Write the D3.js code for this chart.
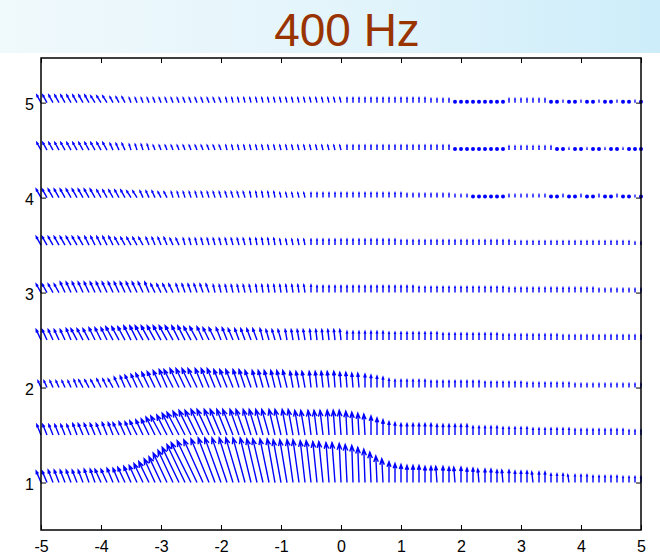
<!DOCTYPE html>
<html>
<head>
<meta charset="utf-8">
<script src="https://cdn.jsdelivr.net/npm/d3@7"></script>
<style>
  html, body { margin: 0; padding: 0; background: #ffffff; }
  svg { display: block; }
</style>
</head>
<body>
<div id="viscontainer"></div>
<script>

// quiver grid: arrow bases along x, one row of arrows per y level
const gridX = [
  -5, -4.9, -4.8, -4.7, -4.6, -4.5, -4.4, -4.3, -4.2, -4.1,
  -4, -3.9, -3.8, -3.7, -3.6, -3.5, -3.4, -3.3, -3.2, -3.1,
  -3, -2.9, -2.8, -2.7, -2.6, -2.5, -2.4, -2.3, -2.2, -2.1,
  -2, -1.9, -1.8, -1.7, -1.6, -1.5, -1.4, -1.3, -1.2, -1.1,
  -1, -0.9, -0.8, -0.7, -0.6, -0.5, -0.4, -0.3, -0.2, -0.1,
  0, 0.1, 0.2, 0.3, 0.4, 0.5, 0.6, 0.7, 0.8, 0.9,
  1, 1.1, 1.2, 1.3, 1.4, 1.5, 1.6, 1.7, 1.8, 1.9,
  2, 2.1, 2.2, 2.3, 2.4, 2.5, 2.6, 2.7, 2.8, 2.9,
  3, 3.1, 3.2, 3.3, 3.4, 3.5, 3.6, 3.7, 3.8, 3.9,
  4, 4.1, 4.2, 4.3, 4.4, 4.5, 4.6, 4.7, 4.8, 4.9,
  5
];

const rowY = [1, 1.5, 2, 2.5, 3, 3.5, 4, 4.5, 5];

// vector components, in hundredths of a data unit (u: along x, v: along y)
const v_y10 = [
  12,12,13,13,13,13,13,13,14,14,14,14,15,15,16,
  17,18,20,22,25,27,31,34,37,40,
  42,44,45,46,47,47,47,47,47,47,
  47,46,46,46,46,45,45,45,45,44,
  44,43,43,42,42,41,40,39,37,35,
  32,28,25,22,20,19,18,18,18,17,
  17,17,17,16,16,16,15,15,14,14,
  14,13,13,13,12,12,12,11,11,11,
  9,9,9,8,8,8,8,7,7,7,
  7,7,6,6,6,6
];
const u_y10 = [
  -8,-8,-8,-8,-8,-8,-8,-8,-8,-8,-10,-10,-10,-10,-12,
  -12,-13,-15,-17,-18,-20,-23,-25,-28,-30,
  -33,-33,-32,-30,-28,-27,-25,-23,-22,-20,
  -18,-17,-17,-15,-13,-13,-12,-10,-10,-8,
  -8,-7,-7,-5,-5,-3,-3,-2,-2,-2,
  -2,-2,-2,0,0,0,0,0,0,0,
  0,-2,0,0,-2,0,0,0,-2,0,
  0,0,-2,0,0,0,0,-2,0,0,
  0,0,0,-2,0,0,0,0,0,0,
  0,0,0,0,0,0
];

const v_y15 = [
  11,11,11,11,11,11,12,12,12,12,12,13,13,13,14,
  14,15,16,17,19,20,21,23,24,25,
  26,26,27,27,27,27,27,27,27,27,
  27,27,27,27,27,27,27,27,26,26,
  26,26,26,26,26,26,25,24,23,22,
  20,18,16,14,13,12,12,12,12,12,
  12,11,11,11,11,11,11,9,9,9,
  9,9,8,8,8,8,8,7,7,7,
  7,7,7,7,6,6,6,6,6,6,
  6,6,6,5,5,5
];
const u_y15 = [
  -7,-7,-7,-7,-7,-7,-7,-8,-8,-8,-8,-8,-8,-10,-10,
  -10,-12,-12,-13,-15,-17,-17,-18,-20,-20,
  -20,-20,-20,-20,-18,-18,-17,-17,-15,-15,
  -13,-13,-12,-12,-10,-10,-8,-8,-7,-7,
  -5,-5,-5,-3,-3,-3,-2,-2,-2,-2,
  0,0,0,0,0,0,0,0,0,0,
  0,0,0,0,0,0,0,0,0,0,
  0,0,0,0,0,0,0,0,0,0,
  0,0,0,0,0,0,0,0,0,0,
  0,0,0,0,0,0
];

const v_y20 = [
  7,7,7,7,7,7,8,8,8,8,9,9,9,11,12,
  13,14,15,16,17,18,19,19,20,20,
  20,20,20,20,20,19,19,19,19,19,
  18,18,18,18,18,18,18,17,17,17,
  17,17,17,17,17,16,16,15,15,14,
  13,12,11,9,8,8,8,8,8,8,
  7,7,7,7,7,7,7,7,7,6,
  6,6,6,6,6,6,5,5,5,5,
  5,5,5,5,4,4,4,4,4,4,
  4,4,4,4,4,4
];
const u_y20 = [
  -5,-5,-5,-5,-5,-5,-5,-7,-7,-7,-7,-7,-8,-8,-8,
  -10,-10,-12,-12,-13,-13,-13,-15,-15,-15,
  -15,-15,-13,-13,-13,-12,-12,-12,-10,-10,
  -10,-8,-8,-8,-7,-7,-7,-5,-5,-5,
  -3,-3,-3,-3,-2,-2,-2,-2,-2,0,
  0,0,0,0,0,0,0,0,0,0,
  0,0,0,0,0,0,0,0,0,0,
  0,0,0,0,0,0,0,0,0,0,
  0,0,0,0,0,0,0,0,0,0,
  0,0,0,0,0,0
];

const v_y25 = [
  11,11,11,11,11,12,12,12,12,13,13,13,14,14,14,
  15,15,15,15,15,15,15,15,15,15,
  14,14,14,13,13,13,13,12,12,12,
  12,12,12,11,11,11,11,11,11,11,
  11,11,11,11,11,11,9,9,9,9,
  9,9,9,8,8,8,8,8,8,8,
  8,8,7,7,7,7,7,7,7,7,
  7,7,6,6,6,6,6,6,6,6,
  6,6,5,5,5,5,5,5,5,5,
  5,5,5,5,5,5
];
const u_y25 = [
  -8,-8,-8,-8,-8,-8,-10,-10,-10,-10,-10,-10,-12,-12,-12,
  -12,-12,-13,-13,-13,-13,-13,-13,-12,-12,
  -12,-12,-10,-10,-10,-8,-8,-8,-7,-7,
  -7,-7,-5,-5,-5,-5,-3,-3,-3,-3,
  -2,-2,-2,-2,-2,-2,0,0,0,0,
  0,0,0,0,0,0,0,0,0,0,
  0,0,0,0,0,0,0,0,0,0,
  0,0,0,0,0,0,0,0,0,0,
  0,0,0,0,0,0,0,0,0,0,
  0,0,0,0,0,0
];

const v_y30 = [
  9,9,9,9,11,11,11,11,11,11,11,11,11,11,11,
  11,11,11,11,9,9,9,9,9,9,
  9,9,9,9,8,8,8,8,8,8,
  8,8,8,8,8,8,8,8,8,8,
  8,7,7,7,7,7,7,7,7,7,
  7,7,7,7,7,7,7,7,6,6,
  6,6,6,6,6,6,6,6,6,6,
  6,6,6,5,5,5,5,5,5,5,
  5,5,5,5,5,5,5,5,4,4,
  4,4,4,4,4,4
];
const u_y30 = [
  -8,-8,-8,-8,-8,-8,-8,-8,-8,-8,-8,-8,-8,-8,-8,
  -8,-8,-8,-7,-7,-7,-7,-7,-5,-5,
  -5,-5,-5,-5,-3,-3,-3,-3,-3,-3,
  -3,-2,-2,-2,-2,-2,-2,-2,-2,-2,
  0,0,0,0,0,0,0,0,0,0,
  0,0,0,0,0,0,0,0,0,0,
  0,0,0,0,0,0,0,0,0,0,
  0,0,0,0,0,0,0,0,0,0,
  0,0,0,0,0,0,0,0,0,0,
  0,0,0,0,0,0
];

const v_y35 = [
  9,9,9,9,9,9,9,9,9,9,9,9,9,8,8,
  8,8,8,8,8,8,8,7,7,7,
  7,7,7,7,7,7,7,7,7,7,
  7,7,7,7,7,6,6,6,6,6,
  6,6,6,6,6,6,6,6,6,6,
  6,6,6,6,6,5,5,5,5,5,
  5,5,5,5,5,5,5,5,5,5,
  5,5,5,5,4,4,4,4,4,4,
  4,4,4,4,4,4,4,4,4,4,
  4,4,4,4,3,3
];
const u_y35 = [
  -8,-8,-8,-8,-8,-8,-8,-8,-7,-7,-7,-7,-7,-7,-7,
  -7,-7,-7,-5,-5,-5,-5,-5,-5,-3,
  -3,-3,-3,-3,-3,-3,-3,-3,-3,-3,
  -2,-2,-2,-2,-2,-2,-2,-2,-2,-2,
  0,0,0,0,0,0,0,0,0,0,
  0,0,0,0,0,0,0,0,0,0,
  0,0,0,0,0,0,0,0,0,0,
  0,0,0,0,0,0,0,0,0,0,
  0,0,0,0,0,0,0,0,0,0,
  0,0,0,0,0,0
];

const v_y40 = [
  9,9,9,9,9,9,9,9,9,9,8,8,8,8,8,
  7,7,7,7,7,6,6,6,6,6,
  6,6,6,6,6,6,6,6,6,6,
  6,6,6,6,6,5,5,5,5,5,
  5,5,5,5,5,5,5,5,5,5,
  5,5,5,5,5,5,4,4,4,4,
  4,4,4,4,3,3,3,1,1,1,
  1,1,1,3,3,3,3,3,3,3,
  1,1,3,1,1,3,1,1,3,1,
  1,3,1,1,2,1
];
const u_y40 = [
  -8,-8,-8,-8,-8,-8,-8,-8,-8,-8,-7,-7,-7,-7,-7,
  -7,-7,-5,-5,-5,-5,-5,-3,-3,-3,
  -3,-3,-3,-3,-3,-3,-3,-3,-3,-3,
  -2,-2,-2,-2,-2,-2,-2,-2,-2,-2,
  0,0,0,0,0,0,0,0,0,0,
  0,0,0,0,0,0,0,0,0,0,
  0,0,0,0,0,0,0,0,0,0,
  0,0,0,0,0,0,0,0,0,0,
  0,0,0,0,0,0,0,0,0,0,
  0,0,0,0,0,0
];

const v_y45 = [
  8,8,8,8,8,8,8,8,8,8,8,8,7,7,7,
  6,6,6,6,5,5,5,5,5,5,
  5,5,5,5,5,5,5,5,5,5,
  5,5,5,5,5,5,5,5,5,5,
  5,5,5,5,5,5,5,5,5,5,
  5,5,5,5,5,5,5,5,5,5,
  5,5,5,5,1,1,1,1,1,1,
  1,1,1,4,4,4,4,4,4,4,
  4,1,1,2,1,1,2,1,1,2,
  1,1,2,1,1,1
];
const u_y45 = [
  -7,-7,-7,-7,-7,-7,-7,-7,-7,-7,-7,-7,-5,-5,-5,
  -3,-3,-3,-3,-3,-3,-3,-3,-3,-3,
  -3,-3,-3,-3,-3,-3,-2,-2,-2,-2,
  -2,-2,-2,-2,-2,-2,-2,-2,-2,-2,
  -2,-2,-2,-2,-2,-2,0,0,0,0,
  0,0,0,0,0,0,0,0,0,0,
  0,0,0,0,0,0,0,0,0,0,
  0,0,0,0,0,0,0,0,0,0,
  0,0,0,0,0,0,0,0,0,0,
  0,0,0,0,0,0
];

const v_y50 = [
  8,8,8,8,8,8,8,8,8,7,7,7,6,6,6,
  5,5,5,5,5,5,5,5,5,5,
  5,5,5,5,5,5,5,5,5,5,
  5,5,5,5,5,5,5,5,5,5,
  5,5,5,5,5,5,5,5,5,5,
  5,5,5,5,5,5,5,5,5,5,
  4,4,4,4,1,1,1,1,1,1,
  1,1,1,4,4,4,4,4,4,4,
  1,1,2,1,1,2,1,1,2,1,
  1,2,1,1,2,1
];
const u_y50 = [
  -7,-7,-7,-7,-7,-7,-7,-7,-7,-7,-7,-7,-5,-5,-5,
  -3,-3,-3,-3,-3,-3,-3,-3,-3,-3,
  -3,-3,-3,-3,-3,-3,-2,-2,-2,-2,
  -2,-2,-2,-2,-2,-2,-2,-2,-2,-2,
  -2,-2,-2,-2,-2,-2,0,0,0,0,
  0,0,0,0,0,0,0,0,0,0,
  0,0,0,0,0,0,0,0,0,0,
  0,0,0,0,0,0,0,0,0,0,
  0,0,0,0,0,0,0,0,0,0,
  0,0,0,0,0,0
];

const uRows = [u_y10, u_y15, u_y20, u_y25, u_y30, u_y35, u_y40, u_y45, u_y50];
const vRows = [v_y10, v_y15, v_y20, v_y25, v_y30, v_y35, v_y40, v_y45, v_y50];

const xTicks = [-5, -4, -3, -2, -1, 0, 1, 2, 3, 4, 5];
const yTicks = [1, 2, 3, 4, 5];

const titleText = "400 Hz";

const width = 660;
const height = 555;

const font = "'Liberation Sans', Arial, sans-serif";

function drawChart() {

  const svg = d3.select("#viscontainer")
    .append("svg")
    .attr("width", width)
    .attr("height", height);

  const defs = svg.append("defs");
  const grad = defs.append("linearGradient")
    .attr("id", "band")
    .attr("x1", "0%").attr("x2", "100%")
    .attr("y1", "0%").attr("y2", "0%");
  grad.append("stop").attr("offset", "0%").attr("stop-color", "#f0f9fc");
  grad.append("stop").attr("offset", "55%").attr("stop-color", "#e2f4fb");
  grad.append("stop").attr("offset", "100%").attr("stop-color", "#cdedfa");

  svg.append("rect")
    .attr("x", 0).attr("y", 0)
    .attr("width", width).attr("height", 53)
    .attr("fill", "url(#band)");

  svg.append("text")
    .attr("x", 347)
    .attr("y", 46)
    .attr("text-anchor", "middle")
    .attr("font-family", font)
    .attr("font-size", 46)
    .attr("fill", "#993300")
    .text(titleText);

  const x = d3.scaleLinear().domain([-5, 5]).range([41, 641]);
  const y = d3.scaleLinear().domain([0.5, 5.47]).range([530, 58]);

  // arrows
  const arrows = [];
  rowY.forEach((ry, r) => {
    gridX.forEach((gx, i) => {
      arrows.push({ x: gx, y: ry, u: uRows[r][i] / 100, v: vRows[r][i] / 100 });
    });
  });

  const plot = svg.append("g");

  function arrowPath(d) {
    const x0 = x(d.x), y0 = y(d.y);
    const x1 = x(d.x + d.u), y1 = y(d.y + d.v);
    const dx = x1 - x0, dy = y1 - y0;
    const len = Math.hypot(dx, dy);
    const ux = dx / len, uy = dy / len;
    const h = Math.min(0.25 * len, 6);
    const w = 0.38 * h;
    const bx = x1 - ux * h, by = y1 - uy * h;
    const p1 = [bx - uy * w, by + ux * w];
    const p2 = [bx + uy * w, by - ux * w];
    return `M${x0},${y0}L${x1},${y1}M${p1[0]},${p1[1]}L${x1},${y1}L${p2[0]},${p2[1]}`;
  }

  const isDot = d => d.v <= 0.011 && Math.abs(d.u) < 0.011;

  plot.selectAll("path.arrow")
    .data(arrows.filter(d => !isDot(d)))
    .join("path")
    .attr("class", "arrow")
    .attr("d", arrowPath)
    .attr("fill", "none")
    .attr("stroke", "#0000ff")
    .attr("stroke-width", 1.4)
    .attr("stroke-linejoin", "miter");

  plot.selectAll("circle.dot")
    .data(arrows.filter(isDot))
    .join("circle")
    .attr("class", "dot")
    .attr("cx", d => x(d.x))
    .attr("cy", d => y(d.y) - 1)
    .attr("r", 2)
    .attr("fill", "#0000ff");

  // axes, ticks pointing inward like MATLAB
  const axisStyle = g => {
    g.select(".domain").remove();
    g.selectAll(".tick line").attr("stroke", "#000").attr("stroke-width", 1);
    g.selectAll(".tick text")
      .attr("font-family", font)
      .attr("font-size", 16)
      .attr("fill", "#000");
  };

  const plain = d => String(d);

  svg.append("g")
    .attr("transform", "translate(0,530)")
    .call(d3.axisBottom(x).tickValues(xTicks).tickFormat(plain)
      .tickSizeInner(-5).tickSizeOuter(0).tickPadding(11))
    .call(axisStyle);

  svg.append("g")
    .attr("transform", "translate(0,58)")
    .call(d3.axisTop(x).tickValues(xTicks).tickFormat("")
      .tickSizeInner(-5).tickSizeOuter(0))
    .call(axisStyle);

  svg.append("g")
    .attr("transform", "translate(41,0)")
    .call(d3.axisLeft(y).tickValues(yTicks).tickFormat(plain)
      .tickSizeInner(-5).tickSizeOuter(0).tickPadding(7))
    .call(axisStyle)
    .call(g => g.selectAll(".tick text").attr("dy", "0.45em"));

  svg.append("g")
    .attr("transform", "translate(641,0)")
    .call(d3.axisRight(y).tickValues(yTicks).tickFormat("")
      .tickSizeInner(-5).tickSizeOuter(0))
    .call(axisStyle);

  svg.append("rect")
    .attr("x", 41).attr("y", 58)
    .attr("width", 600).attr("height", 472)
    .attr("fill", "none")
    .attr("stroke", "#000")
    .attr("stroke-width", 1.5);
}

drawChart();
</script>
</body>
</html>
